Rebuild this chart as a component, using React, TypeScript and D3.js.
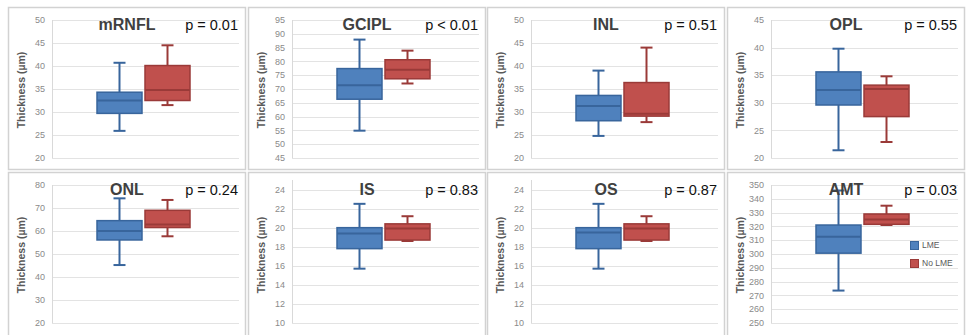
import React from 'react';
import * as d3 from 'd3';

// retinal layers, one panel each
const layers = ['mRNFL', 'GCIPL', 'INL', 'OPL', 'ONL', 'IS', 'OS', 'AMT'];
const pValues = ['p = 0.01', 'p < 0.01', 'p = 0.51', 'p = 0.55', 'p = 0.24', 'p = 0.83', 'p = 0.87', 'p = 0.03'];
const groups = ['LME', 'No LME'];

// [min, q1, median, q3, max]
const lmeStats = [
  [25.9, 29.7, 32.5, 34.3, 40.7],
  [54.9, 66.3, 71.4, 77.4, 87.9],
  [24.8, 28.1, 31.3, 33.6, 39.0],
  [21.4, 29.6, 32.3, 35.6, 39.8],
  [45.2, 56.1, 60.0, 64.5, 74.2],
  [15.7, 17.8, 19.4, 20.0, 22.5],
  [15.7, 17.8, 19.5, 20.0, 22.5],
  [273.5, 300.6, 312.5, 321.0, 346.0],
];
const noLmeStats = [
  [31.5, 32.5, 34.8, 40.1, 44.5],
  [72.0, 73.7, 77.0, 80.6, 83.9],
  [27.8, 29.1, 29.6, 36.4, 44.0],
  [22.9, 27.5, 32.5, 33.2, 34.8],
  [57.7, 61.5, 62.8, 69.0, 73.5],
  [18.6, 18.7, 19.9, 20.4, 21.2],
  [18.6, 18.7, 19.9, 20.4, 21.2],
  [321.0, 321.5, 325.0, 329.0, 335.0],
];

// y axes
const yMins = [20, 45, 20, 20, 20, 10, 10, 250];
const yTickMaxs = [50, 95, 50, 45, 80, 24, 24, 350];
const yAxisMaxs = [50, 95, 50, 45, 80, 25, 25, 350];
const ySteps = [5, 5, 5, 5, 10, 2, 2, 10];

const colors = {
  LME: { fill: '#4F81BD', stroke: '#38659C' },
  'No LME': { fill: '#C0504D', stroke: '#9A3A38' },
};

const W = 966;
const H = 335;
const panelW = 237;

function Panel({ i }: { i: number }) {
  const col = i % 4;
  const row = Math.floor(i / 4);
  const L = Math.round(8 + col * 239.7);
  const T = row === 0 ? 7 : 172;
  const panelH = row === 0 ? 162 : 170;

  const ticks = d3.range(yMins[i], yTickMaxs[i] + 1e-9, ySteps[i]);
  const top = yAxisMaxs[i] > yTickMaxs[i] ? T + 8 : T + 13;
  const y = d3.scaleLinear().domain([yMins[i], yAxisMaxs[i]]).range([T + 151, top]);

  const plotLeft = L + 44;
  const plotRight = L + 231;
  const x = d3.scaleBand<string>()
    .domain(groups)
    .range([plotLeft + 45, plotLeft + 138])
    .paddingInner(0.0625);
  const bw = x.bandwidth();

  const stats = [lmeStats[i], noLmeStats[i]];

  return (
    <g>
      <rect x={L + 0.5} y={T + 0.5} width={panelW} height={panelH} fill="#fff" stroke="#d2d2d2" strokeWidth={1.5} />
      {ticks.map(t => (
        <g key={t}>
          <line x1={plotLeft} x2={plotRight} y1={Math.round(y(t)) + 0.5} y2={Math.round(y(t)) + 0.5} stroke="#e3e3e3" strokeWidth={1} />
          <text x={plotLeft - 7} y={y(t)} dy="0.35em" textAnchor="end" fontSize={9} fill="#8a8a8a">{t}</text>
        </g>
      ))}
      <line x1={plotLeft + 0.5} x2={plotLeft + 0.5} y1={top} y2={T + 151} stroke="#d9d9d9" />
      <text
        transform={`translate(${L + 17},${T + 83}) rotate(-90)`}
        textAnchor="middle"
        fontSize={10.5}
        fontWeight="bold"
        fill="#595959"
      >Thickness (µm)</text>

      {groups.map((g, k) => {
        const [mn, q1, md, q3, mx] = stats[k];
        const cx = (x(g) as number) + bw / 2;
        const c = colors[g as keyof typeof colors];
        return (
          <g key={g}>
            <line x1={cx} x2={cx} y1={y(mx)} y2={y(q3)} stroke={c.stroke} strokeWidth={2} />
            <line x1={cx} x2={cx} y1={y(q1)} y2={y(mn)} stroke={c.stroke} strokeWidth={2} />
            <line x1={cx - 6} x2={cx + 6} y1={y(mx)} y2={y(mx)} stroke={c.stroke} strokeWidth={2} />
            <line x1={cx - 6} x2={cx + 6} y1={y(mn)} y2={y(mn)} stroke={c.stroke} strokeWidth={2} />
            <rect x={x(g)} y={y(q3)} width={bw} height={y(q1) - y(q3)} fill={c.fill} stroke={c.stroke} strokeWidth={1.5} />
            <line x1={x(g)} x2={(x(g) as number) + bw} y1={y(md)} y2={y(md)} stroke={c.stroke} strokeWidth={2} />
          </g>
        );
      })}

      <text x={L + 119} y={T + 23} textAnchor="middle" fontSize={16} fontWeight="bold" fill="#404040">{layers[i]}</text>
      <text x={L + 230} y={T + 23} textAnchor="end" fontSize={14.5} fill="#111">{pValues[i]}</text>

      {i === layers.length - 1 && groups.map((g, k) => {
        const c = colors[g as keyof typeof colors];
        return (
          <g key={g} transform={`translate(${L + 183},${T + 69 + k * 18})`}>
            <rect x={0.5} y={0.5} width={8} height={8} fill={c.fill} stroke={c.stroke} />
            <text x={12} y={4.5} dy="0.35em" fontSize={8.5} fill="#595959">{g}</text>
          </g>
        );
      })}
    </g>
  );
}

export default function App() {
  return (
    <svg
      width={W}
      height={H}
      style={{ position: 'absolute', left: 0, top: 0, background: '#fff' }}
      fontFamily="'Liberation Sans', Arial, sans-serif"
    >
      {layers.map((name, i) => <Panel key={name} i={i} />)}
    </svg>
  );
}
